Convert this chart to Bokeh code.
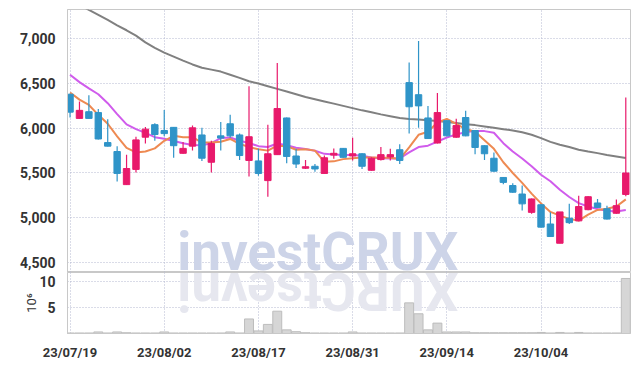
import numpy as np
from bokeh.plotting import figure
from bokeh.models import ColumnDataSource, Range1d, FixedTicker, NumeralTickFormatter, Label
from bokeh.layouts import column
from bokeh.embed import file_html
from bokeh.resources import INLINE

dates = ["23/07/19", "23/07/20", "23/07/21", "23/07/24", "23/07/25", "23/07/26", "23/07/27", "23/07/28", "23/07/31",
         "23/08/01", "23/08/02", "23/08/03", "23/08/04", "23/08/07", "23/08/08", "23/08/09", "23/08/10", "23/08/11",
         "23/08/14", "23/08/16", "23/08/17", "23/08/18", "23/08/21", "23/08/22", "23/08/23", "23/08/24", "23/08/25",
         "23/08/28", "23/08/29", "23/08/30", "23/08/31", "23/09/01", "23/09/04", "23/09/05", "23/09/06", "23/09/07",
         "23/09/08", "23/09/11", "23/09/12", "23/09/13", "23/09/14", "23/09/15", "23/09/18", "23/09/19", "23/09/20",
         "23/09/21", "23/09/22", "23/09/25", "23/09/26", "23/09/27", "23/10/04", "23/10/05", "23/10/06", "23/10/10",
         "23/10/11", "23/10/12", "23/10/13", "23/10/16", "23/10/17", "23/10/18"]

open_ = [6380, 6110, 6185, 6175, 5840, 5740, 5370, 5540, 5900, 6040,
         5975, 6010, 5720, 5800, 5925, 5620, 5915, 6050, 5925, 5640,
         5635, 5415, 5705, 6115, 5690, 5553, 5575, 5495, 5700, 5775,
         5690, 5715, 5530, 5650, 5680, 5760, 6510, 6375, 6115, 5835,
         6085, 5900, 6120, 5975, 5805, 5665, 5450, 5360, 5265, 5060,
         5145, 4930, 4715, 4995, 4965, 5090, 5165, 5100, 5050, 5260]
high = [6385, 6300, 6370, 6215, 6100, 5800, 5705, 5905, 6015, 6055,
        6205, 6015, 5845, 6030, 6005, 5860, 6070, 6150, 5940, 6470,
        5770, 6040, 6730, 6120, 5770, 5645, 5600, 5695, 5775, 5780,
        5895, 5720, 5675, 5790, 5770, 5820, 6735, 6975, 6250, 6395,
        6090, 6105, 6195, 5980, 5810, 5730, 5455, 5385, 5360, 5215,
        5150, 5060, 5065, 5155, 5245, 5240, 5210, 5135, 5205, 6345]
low = [6120, 6110, 6110, 5875, 5795, 5405, 5365, 5505, 5830, 5860,
       5910, 5670, 5715, 5750, 5635, 5505, 5750, 5895, 5645, 5460,
       5470, 5235, 5700, 5610, 5555, 5545, 5515, 5495, 5660, 5670,
       5640, 5545, 5525, 5640, 5640, 5600, 5940, 6005, 5880, 5830,
       5910, 5895, 5910, 5710, 5645, 5515, 5375, 5280, 5080, 5045,
       4890, 4790, 4715, 4930, 4960, 5085, 5110, 4980, 5045, 5240]
close = [6180, 6200, 6110, 5880, 5800, 5495, 5550, 5870, 5990, 5930,
         5940, 5805, 5775, 6005, 5665, 5830, 5890, 5915, 5695, 5905,
         5495, 5715, 6220, 5685, 5600, 5570, 5545, 5670, 5720, 5675,
         5715, 5575, 5665, 5705, 5705, 5640, 6240, 6250, 5885, 6175,
         5915, 6030, 5915, 5785, 5715, 5520, 5395, 5285, 5155, 5210,
         4895, 4790, 5065, 4945, 5125, 5235, 5115, 4985, 5135, 5500]

ma5 = [6400, 6320, 6260, 6150, 6050, 5910, 5780, 5730, 5740, 5775,
       5860, 5915, 5900, 5900, 5840, 5840, 5850, 5880, 5825, 5790,
       5765, 5750, 5805, 5800, 5760, 5765, 5750, 5625, 5630, 5655,
       5665, 5674, 5674, 5670, 5670, 5656, 5786, 5927, 5960, 6065,
       6105, 6050, 5991, 5960, 5865, 5770, 5620, 5500, 5390, 5270,
       5160, 5065, 5023, 4987, 4968, 5035, 5087, 5100, 5125, 5205]
ma10 = [6597, 6515, 6445, 6380, 6280, 6158, 6043, 5991, 5948, 5900,
        5882, 5858, 5833, 5812, 5810, 5833, 5890, 5897, 5860, 5835,
        5800, 5790, 5830, 5810, 5783, 5768, 5749, 5714, 5708, 5700,
        5700, 5693, 5674, 5665, 5663, 5663, 5730, 5790, 5805, 5850,
        5897, 5931, 5957, 5968, 5968, 5950, 5833, 5740, 5662, 5575,
        5480, 5408, 5312, 5232, 5163, 5125, 5098, 5079, 5070, 5087]
ma60 = [7436, 7380, 7322, 7267, 7210, 7150, 7095, 7035, 6960, 6898,
        6845, 6800, 6755, 6713, 6676, 6655, 6633, 6598, 6563, 6525,
        6500, 6470, 6440, 6410, 6380, 6350, 6325, 6300, 6275, 6250,
        6225, 6200, 6178, 6155, 6135, 6115, 6103, 6098, 6090, 6080,
        6070, 6058, 6045, 6035, 6020, 6005, 5990, 5975, 5955, 5927,
        5890, 5848, 5815, 5790, 5760, 5740, 5722, 5702, 5685, 5668]

volume = [0.1, 0.1, 0.1, 0.3, 0.1, 0.3, 0.15, 0.1, 0.1, 0.1,
          0.3, 0.1, 0.1, 0.1, 0.1, 0.1, 0.1, 0.3, 0.1, 2.8,
          0.5, 1.75, 4.3, 0.7, 0.35, 0.15, 0.1, 0.1, 0.1, 0.1,
          0.3, 0.1, 0.1, 0.1, 0.1, 0.1, 5.9, 3.8, 0.7, 2.0,
          0.3, 0.3, 0.3, 0.15, 0.15, 0.15, 0.15, 0.15, 0.15, 0.15,
          0.2, 0.1, 0.2, 0.1, 0.2, 0.1, 0.1, 0.1, 0.1, 10.6]

price_ticks = [4500, 5000, 5500, 6000, 6500, 7000]
volume_ticks = [5, 10]
date_tick_idx = [0, 10, 20, 30, 40, 50]

UP = "#e8196b"
DOWN = "#2f94c8"
FONT = "Roboto"

idx = list(range(len(dates)))
colors = [UP if c > o else DOWN for o, c in zip(open_, close)]
src = ColumnDataSource(dict(
    x=idx, open=open_, high=high, low=low, close=close,
    top=[max(o, c) for o, c in zip(open_, close)],
    bottom=[min(o, c) for o, c in zip(open_, close)],
    color=colors, ma5=ma5, ma10=ma10, ma60=ma60, vol=volume,
))

x_range = Range1d(-0.27, 59.5)

p = figure(width=631, height=272, x_range=x_range, y_range=Range1d(4388, 7327),
           output_backend="svg", toolbar_location=None,
           min_border_left=67, min_border_right=1, min_border_top=9, min_border_bottom=0)
p.outline_line_color = "#c8c8c8"
p.xaxis.visible = False
p.xgrid.ticker = FixedTicker(ticks=date_tick_idx)
p.yaxis.ticker = FixedTicker(ticks=price_ticks)
p.yaxis.formatter = NumeralTickFormatter(format="0,0")
for g in (p.xgrid, p.ygrid):
    g.grid_line_color = "#b4b9d0"
    g.grid_line_dash = "1 2"
p.yaxis.axis_line_color = "#c8c8c8"
p.yaxis.major_tick_line_color = None
p.yaxis.minor_tick_line_color = None
p.yaxis.major_label_standoff = 6
p.yaxis.major_label_text_font = FONT
p.yaxis.major_label_text_font_style = "bold"
p.yaxis.major_label_text_font_size = "14px"
p.yaxis.major_label_text_color = "#333333"

wm = Label(x=26.3, y=4620, text="investCRUX", text_font="Roboto",
           text_font_style="bold", text_font_size="53px", text_color="#cdd4e8",
           text_align="center", text_baseline="middle", level="underlay")
p.add_layout(wm)

p.line("x", "ma60", source=src, line_color="#808080", line_width=2)
p.line("x", "ma10", source=src, line_color="#d05cec", line_width=2)
p.line("x", "ma5", source=src, line_color="#ee8a52", line_width=2)
p.segment(x0="x", y0="low", x1="x", y1="high", source=src, line_color="color", line_width=1.2)
p.vbar(x="x", width=0.68, top="top", bottom="bottom", source=src,
       fill_color="color", line_color="color")

v = figure(width=631, height=90, x_range=x_range, y_range=Range1d(0, 11.75),
           output_backend="svg", toolbar_location=None,
           min_border_left=67, min_border_right=1, min_border_top=0, min_border_bottom=25)
v.outline_line_color = "#c8c8c8"
v.xaxis.ticker = FixedTicker(ticks=date_tick_idx)
v.xaxis.major_label_overrides = {i: dates[i] for i in date_tick_idx}
v.yaxis.ticker = FixedTicker(ticks=volume_ticks)
for g in (v.xgrid, v.ygrid):
    g.grid_line_color = "#b4b9d0"
    g.grid_line_dash = "1 2"
for ax in (v.xaxis, v.yaxis):
    ax.axis_line_color = "#c8c8c8"
    ax.major_tick_line_color = None
    ax.minor_tick_line_color = None
    ax.major_label_text_font = FONT
    ax.major_label_text_font_style = "bold"
    ax.major_label_text_font_size = "13px"
    ax.major_label_text_color = "#333333"
v.yaxis.major_label_text_font_size = "14px"
v.xaxis.major_label_standoff = 5
v.yaxis.major_label_standoff = 6
v.yaxis.axis_label = "10⁶"
v.yaxis.axis_label_text_font = FONT
v.yaxis.axis_label_text_font_style = "normal"
v.yaxis.axis_label_text_font_size = "13px"
v.yaxis.axis_label_text_color = "#333333"
v.yaxis.axis_label_standoff = -3

# mirrored watermark reflection
refl = Label(x=26.3, y=8.2, text="XURCtsevni", angle=np.pi, text_font="Roboto",
             text_font_style="bold", text_font_size="53px", text_color="#e6e7ef",
             text_align="center", text_baseline="middle", level="underlay")
v.add_layout(refl)

v.vbar(x="x", width=0.95, top="vol", bottom=0, source=src,
       fill_color="#d6d6d6", line_color="#bdbdbd", line_width=1)

layout = column(p, v, spacing=0)
open("out.html", "w").write(file_html(layout, INLINE))
